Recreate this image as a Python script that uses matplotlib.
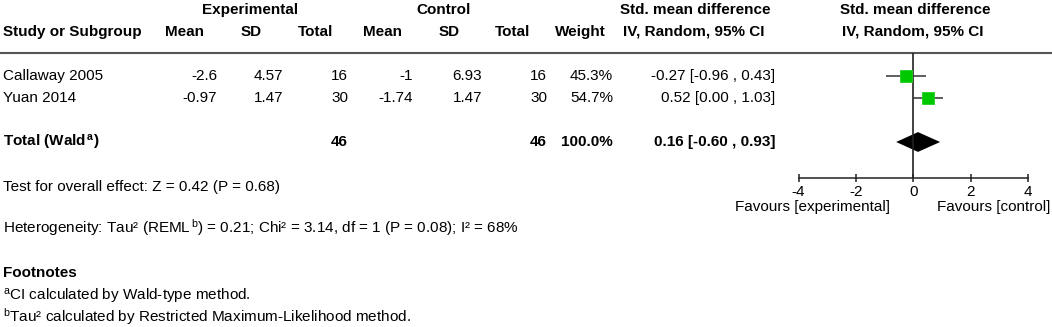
import numpy as np
import matplotlib
matplotlib.use("Agg")
import matplotlib.pyplot as plt

plt.rcParams['font.family'] = ['Liberation Sans', 'DejaVu Sans']
plt.rcParams['font.size'] = 11
plt.rcParams['axes.unicode_minus'] = False
plt.rcParams['mathtext.fontset'] = 'custom'
plt.rcParams['mathtext.rm'] = 'Liberation Sans'
plt.rcParams['mathtext.it'] = 'Liberation Sans:italic'
plt.rcParams['mathtext.bf'] = 'Liberation Sans:bold'

# study data
studies  = ["Callaway 2005", "Yuan 2014"]
exp_mean = [-2.6, -0.97]
exp_sd   = [4.57, 1.47]
exp_n    = [16, 30]
ctl_mean = [-1, -1.74]
ctl_sd   = [6.93, 1.47]
ctl_n    = [16, 30]
weights  = [45.3, 54.7]
smd      = [-0.27, 0.52]
ci_lo    = [-0.96, 0.00]
ci_hi    = [0.43, 1.03]

# pooled estimate
total_smd = 0.16
total_lo  = -0.60
total_hi  = 0.93
total_weight = 100.0

x_ticks = [-4, -2, 0, 2, 4]

W, H = 1052, 327
ROW0, ROWH = 76, 22   # pixel y of first study row, row spacing
TOTAL_ROW = 3

fig = plt.figure(figsize=(W / 100, H / 100), dpi=100)

# overlay axes in pixel units for the table text
tab = fig.add_axes([0, 0, 1, 1])
tab.set_xlim(0, W)
tab.set_ylim(H, 0)
tab.axis('off')

def row_y(r):
    return ROW0 + ROWH * r

# headers
for x, s in [(250, "Experimental"), (444, "Control"),
             (695, "Std. mean difference"), (915, "Std. mean difference")]:
    tab.text(x, 10, s, ha='center', va='center', fontweight='bold')
tab.text(3, 32, "Study or Subgroup", ha='left', va='center', fontweight='bold')
for x, s in [(185, "Mean"), (251, "SD"), (316, "Total"), (382, "Mean"),
             (449, "SD"), (513, "Total"), (580, "Weight"),
             (694, "IV, Random, 95% CI"), (913, "IV, Random, 95% CI")]:
    tab.text(x, 32, s, ha='center', va='center', fontweight='bold')

tab.plot([0, W], [52.7, 52.7], color='#555555', lw=1.5, solid_capstyle='butt')

# study rows
col_right = [217, 283, 348, 413, 482, 547, 613, 775]
for i, name in enumerate(studies):
    y = row_y(i)
    tab.text(3, y, name, ha='left', va='center')
    vals = [f"{exp_mean[i]:g}", f"{exp_sd[i]:.2f}", f"{exp_n[i]}",
            f"{ctl_mean[i]:g}", f"{ctl_sd[i]:.2f}", f"{ctl_n[i]}",
            f"{weights[i]:.1f}%",
            f"{smd[i]:.2f} [{ci_lo[i]:.2f} , {ci_hi[i]:.2f}]"]
    for x, s in zip(col_right, vals):
        tab.text(x, y, s, ha='right', va='center')

# total row
yt = row_y(TOTAL_ROW)
tab.text(3, yt, r"Total (Wald$^{\,\mathbf{a}}$)", ha='left', va='center', fontweight='bold')
tab.text(col_right[2], yt, f"{sum(exp_n)}", ha='right', va='center', fontweight='bold')
tab.text(col_right[5], yt, f"{sum(ctl_n)}", ha='right', va='center', fontweight='bold')
tab.text(col_right[6], yt, f"{total_weight:.1f}%", ha='right', va='center', fontweight='bold')
tab.text(col_right[7], yt, f"{total_smd:.2f} [{total_lo:.2f} , {total_hi:.2f}]",
         ha='right', va='center', fontweight='bold')

# bottom notes
tab.text(3, 187, "Test for overall effect: Z = 0.42 (P = 0.68)", ha='left', va='center')
tab.text(3, 228, r"Heterogeneity: Tau² (REML$^{\,\mathrm{b}}$) = 0.21; Chi² = 3.14, df = 1 (P = 0.08); I² = 68%",
         ha='left', va='center')
tab.text(3, 273, "Footnotes", ha='left', va='center', fontweight='bold')
tab.text(3, 296, r"$^{\mathrm{a}}$CI calculated by Wald-type method.", ha='left', va='center')
tab.text(3, 317, r"$^{\mathrm{b}}$Tau² calculated by Restricted Maximum-Likelihood method.",
         ha='left', va='center')

tab.text(890, 207, "Favours [experimental]", ha='right', va='center')
tab.text(937, 207, "Favours [control]", ha='left', va='center')

# forest plot axes
x0, x1 = 798.5, 1028.3
y_top, y_bot = 52.7, 178.3
ax = fig.add_axes([x0 / W, (H - y_bot) / H, (x1 - x0) / W, (y_bot - y_top) / H])
ax.set_facecolor('none')
ax.set_xlim(x_ticks[0], x_ticks[-1])
ax.set_ylim((y_bot - ROW0) / ROWH, (y_top - ROW0) / ROWH)
for side in ['top', 'left', 'right']:
    ax.spines[side].set_visible(False)
ax.spines['bottom'].set_linewidth(1.1)
ax.spines['bottom'].set_color('#222222')
ax.set_yticks([])
ax.set_xticks(x_ticks)
ax.tick_params(axis='x', direction='inout', length=6, width=1.1, color='#222222',
               labelsize=11, pad=1.5)
ax.axvline(0, color='#222222', lw=1.2)

rows = np.arange(len(studies))
ax.hlines(rows, ci_lo, ci_hi, color='#333333', lw=1.1)
k = 9.07 / np.sqrt(max(weights))
for r, est, w in zip(rows, smd, weights):
    ax.plot(est, r, marker='s', markersize=k * np.sqrt(w), color='#00c800',
            markeredgecolor='#22d022', markeredgewidth=0.6, linestyle='none')

hd = 0.45
ax.fill([total_lo, total_smd, total_hi, total_smd],
        [TOTAL_ROW, TOTAL_ROW - hd, TOTAL_ROW, TOTAL_ROW + hd], color='black', lw=0)

fig.savefig("out.png", dpi=100)
